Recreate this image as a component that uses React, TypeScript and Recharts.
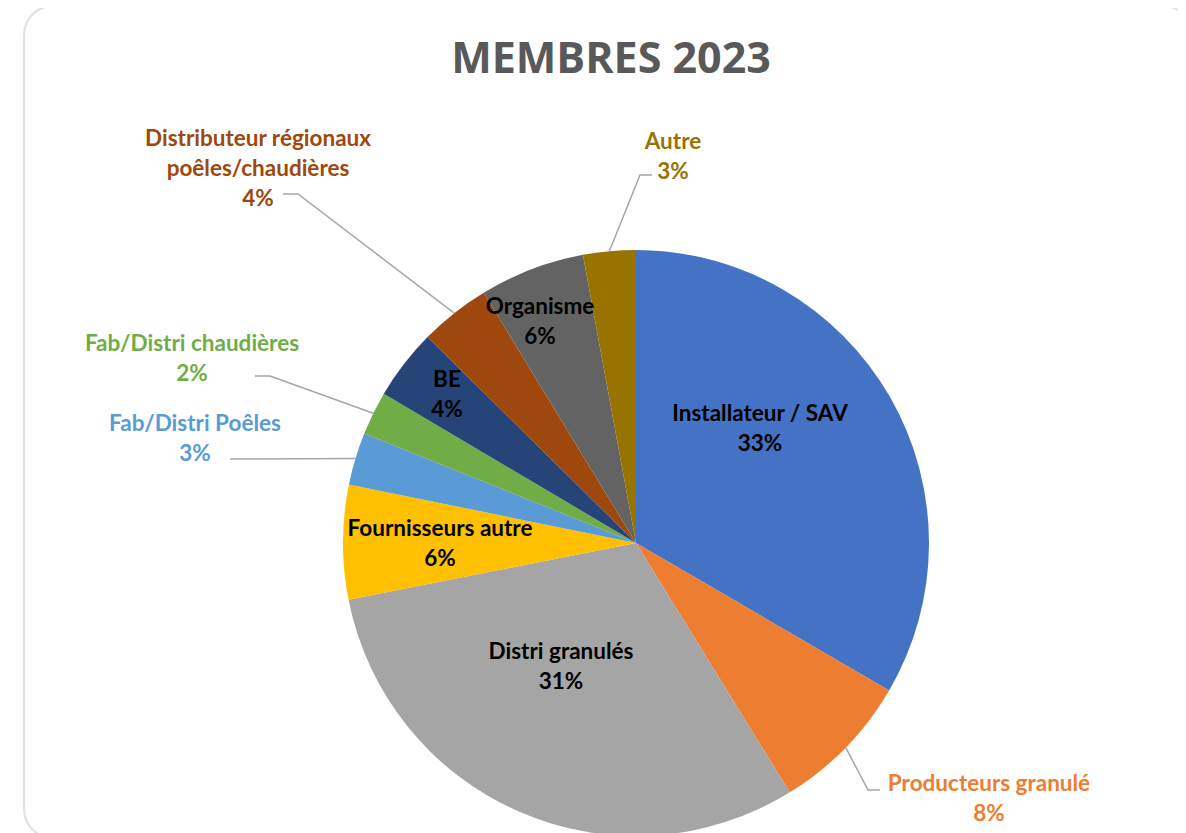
import React from 'react'
import { PieChart, Pie, Cell } from 'recharts'

const categories = [
  'Installateur / SAV', 'Producteurs granulé', 'Distri granulés', 'Fournisseurs autre',
  'Fab/Distri Poêles', 'Fab/Distri chaudières', 'BE',
  'Distributeur régionaux\npoêles/chaudières', 'Organisme', 'Autre',
]
const shares = [33.4, 7.8, 30.7, 6.3, 2.9, 2.4, 3.9, 3.9, 5.8, 2.9]
const colors = ['#4472C4', '#ED7D31', '#A5A5A5', '#FFC000', '#5B9BD5', '#70AD47', '#264478', '#9E480E', '#636363', '#997300']
const outside = [false, true, false, false, true, true, false, true, false, true]

// label block centre, as offset from the pie centre
const labelPos: [number, number][] = [
  [124, -116], [353, 254], [-75, 122], [-196, -1], [-441, -106],
  [-444, -186], [-189, -150], [-378, -376], [-96, -223], [37, -388],
]
// leader line: elbow and end, offset from the pie centre (outside labels only)
const leader: ([number, number, number, number] | null)[] = [
  null, [232, 247, 244, 247], null, null, [-406, -84, -406, -84],
  [-366, -167, -381, -167], null, [-338, -349, -353, -349], null, [4, -368, 16, -368],
]

const data = categories.map((name, i) => ({ name, value: shares[i] }))
const RAD = Math.PI / 180
const LINE_H = 30

const renderLabel = (p: any) => {
  const { cx, cy, midAngle, outerRadius, percent, index } = p
  const lines = [...categories[index].split('\n'), `${Math.round(percent * 100)}%`]
  const [dx, dy] = labelPos[index]
  const color = outside[index] ? colors[index] : '#000'
  const l = leader[index]
  let path = null
  if (l) {
    const sx = cx + outerRadius * Math.cos(-midAngle * RAD)
    const sy = cy + outerRadius * Math.sin(-midAngle * RAD)
    path = (
      <path d={`M${sx},${sy}L${cx + l[0]},${cy + l[1]}L${cx + l[2]},${cy + l[3]}`}
        stroke="#a6a6a6" strokeWidth={1.5} fill="none" />
    )
  }
  return (
    <g key={`lbl-${index}`}>
      {path}
      {lines.map((t, k) => (
        <text key={k} x={cx + dx} y={cy + dy + (k - (lines.length - 1) / 2) * LINE_H}
          textAnchor="middle" dominantBaseline="central" fill={color}
          style={{ fontFamily: 'Lato, sans-serif', fontWeight: 700, fontSize: 22.5 }}>
          {t}
        </text>
      ))}
    </g>
  )
}

export default function App() {
  return (
    <div style={{ position: 'relative', marginTop: -8, marginLeft: -8, width: 1186, height: 833, overflow: 'hidden', background: '#fff' }}>
      <div style={{ position: 'absolute', left: 23, top: 5, width: 1170, height: 834, boxSizing: 'border-box',
        border: '2px solid #e0e0e0', borderRadius: 30 }} />
      <div style={{ position: 'absolute', left: 411, top: 35, width: 400, textAlign: 'center', fontFamily: '"Open Sans", sans-serif',
        fontWeight: 700, fontSize: 43, lineHeight: '43px', color: '#595959' }}>
        MEMBRES 2023
      </div>
      <div style={{ position: 'absolute', left: 0, top: 0 }}>
        <PieChart width={1186} height={833} margin={{ top: 0, right: 0, bottom: 0, left: 0 }}>
          <Pie data={data} dataKey="value" nameKey="name" cx={636} cy={543} outerRadius={293}
            startAngle={90} endAngle={-270} stroke="none" label={renderLabel} labelLine={false}
            isAnimationActive={false}>
            {data.map((d, i) => <Cell key={d.name} fill={colors[i]} />)}
          </Pie>
        </PieChart>
      </div>
    </div>
  )
}
